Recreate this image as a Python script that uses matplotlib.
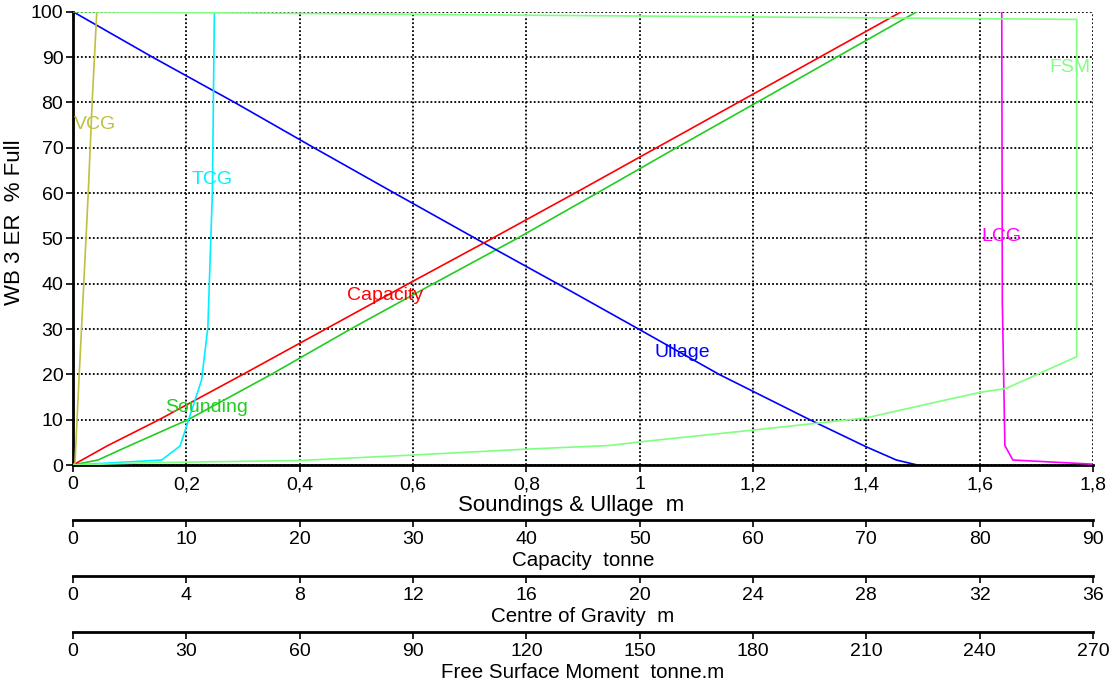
import matplotlib
matplotlib.use("Agg")
import matplotlib.pyplot as plt
from matplotlib.ticker import FuncFormatter, MultipleLocator

plt.rcParams["font.family"] = ["Liberation Sans", "DejaVu Sans"]

# --- tank table values (y = % Full) ---
SND_PCT = [0, 1.1, 4.0, 10, 20, 30, 40, 50, 60, 70, 80, 90, 100]
SOUNDING = [0, 0.044, 0.095, 0.203, 0.35, 0.49, 0.636, 0.784, 0.925, 1.065, 1.207, 1.348, 1.489]

ULL_PCT = [0, 1.1, 4.0, 10, 20, 30, 40, 50, 60, 70, 80, 90, 100]
ULLAGE = [1.49, 1.453, 1.40, 1.30, 1.14, 0.998, 0.855, 0.71, 0.567, 0.425, 0.285, 0.14, 0]

CAP_PCT = [0, 4.2, 10, 20, 30, 40, 50, 60, 70, 80, 90, 100]
CAPACITY = [0, 3.0, 7.6, 15.0, 22.3, 29.6, 37.0, 44.3, 51.5, 58.7, 65.9, 73.1]

VCG_PCT = [0, 0.4, 18.8, 40, 60.3, 80.5, 100]
VCG = [0, 0.07, 0.21, 0.38, 0.54, 0.68, 0.84]

TCG_PCT = [0, 1.1, 4.2, 18.8, 30.4, 60.3, 100]
TCG = [0, 3.13, 3.78, 4.54, 4.76, 4.92, 4.99]

LCG_PCT = [0.2, 1.1, 4.3, 36, 100]
LCG = [35.95, 33.17, 32.89, 32.80, 32.78]

FSM_PCT = [0, 0.5, 1.0, 2.2, 3.5, 4.3, 5.1, 7.7, 10.4, 13.6, 16.0, 16.9, 23.9, 98.3, 100]
FSM = [0, 20, 60, 90, 120, 142, 150, 180, 210, 227, 240, 247, 265.7, 265.7, 0]

C_SND = "#22CC22"
C_ULL = "#0000FF"
C_CAP = "#FF0000"
C_VCG = "#BFBF40"
C_TCG = "#00F0FF"
C_LCG = "#FF00FF"
C_FSM = "#80FF80"

FS = 14
FS_TITLE = 14.8
FS_MAIN = 16
LW = 1.2


def comma(x, pos):
    return f"{x:g}".replace(".", ",")


def style_axis(a, label, size):
    a.tick_params(axis="x", direction="out", length=5, width=1.2, pad=3, labelsize=FS)
    a.xaxis.set_major_formatter(FuncFormatter(comma))
    a.set_xlabel(label, fontsize=size, labelpad=2)


fig = plt.figure(figsize=(11.15, 6.85), dpi=100)
ax = fig.add_axes([73 / 1115, 1 - 465 / 685, 1020 / 1115, (465 - 11.7) / 685])

ax.set_xlim(0, 1.8)
ax.set_ylim(0, 100)
ax.xaxis.set_major_locator(MultipleLocator(0.2))
ax.yaxis.set_major_locator(MultipleLocator(10))
ax.grid(True, color="black", linestyle=(0, (1, 1.2)), linewidth=1.3)
ax.spines[["top", "right"]].set_visible(False)
ax.spines[["left", "bottom"]].set_linewidth(2)
ax.tick_params(axis="y", direction="out", length=5, width=1.2, pad=2, labelsize=FS)
style_axis(ax, "Soundings & Ullage  m", FS_MAIN)
ax.xaxis.set_label_coords(0.488, -0.066)
ax.set_ylabel("WB 3 ER  % Full", fontsize=FS_MAIN)
ax.yaxis.set_label_coords(-0.047, 0.536)

# soundings / ullage in metres on the main axis
ax.plot(SOUNDING, SND_PCT, color=C_SND, lw=LW)
ax.plot(ULLAGE, ULL_PCT, color=C_ULL, lw=LW)


def extra_axis(xmax, step, frac, label):
    t = ax.twiny()
    t.set_xlim(0, xmax)
    t.xaxis.set_major_locator(MultipleLocator(step))
    t.xaxis.set_ticks_position("bottom")
    t.xaxis.set_label_position("bottom")
    for s in ["top", "left", "right"]:
        t.spines[s].set_visible(False)
    t.spines["bottom"].set_position(("axes", frac))
    t.spines["bottom"].set_linewidth(2)
    style_axis(t, label, FS_TITLE)
    return t


ax_cap = extra_axis(90, 10, -(520 - 465) / 453.3, "Capacity  tonne")
ax_cog = extra_axis(36, 4, -(576 - 465) / 453.3, "Centre of Gravity  m")
ax_fsm = extra_axis(270, 30, -(632 - 465) / 453.3, "Free Surface Moment  tonne.m")

ax_cap.plot(CAPACITY, CAP_PCT, color=C_CAP, lw=LW)
ax_cog.plot(VCG, VCG_PCT, color=C_VCG, lw=LW)
ax_cog.plot(TCG, TCG_PCT, color=C_TCG, lw=LW)
ax_cog.plot(LCG, LCG_PCT, color=C_LCG, lw=LW)
ax_fsm.plot(FSM, FSM_PCT, color=C_FSM, lw=LW)

# curve labels
labels = [
    ("VCG", 0.039, 75.2, C_VCG),
    ("TCG", 0.245, 62.9, C_TCG),
    ("Capacity", 0.551, 37.3, C_CAP),
    ("Ullage", 1.076, 24.9, C_ULL),
    ("Sounding", 0.235, 12.6, C_SND),
    ("LCG", 1.638, 50.3, C_LCG),
    ("FSM", 1.759, 87.6, C_FSM),
]
for txt, x, y, c in labels:
    ax_fsm.text(x / 1.8 * 270, y, txt, color=c, fontsize=FS, ha="center", va="center")

fig.savefig("out.png", dpi=100)
